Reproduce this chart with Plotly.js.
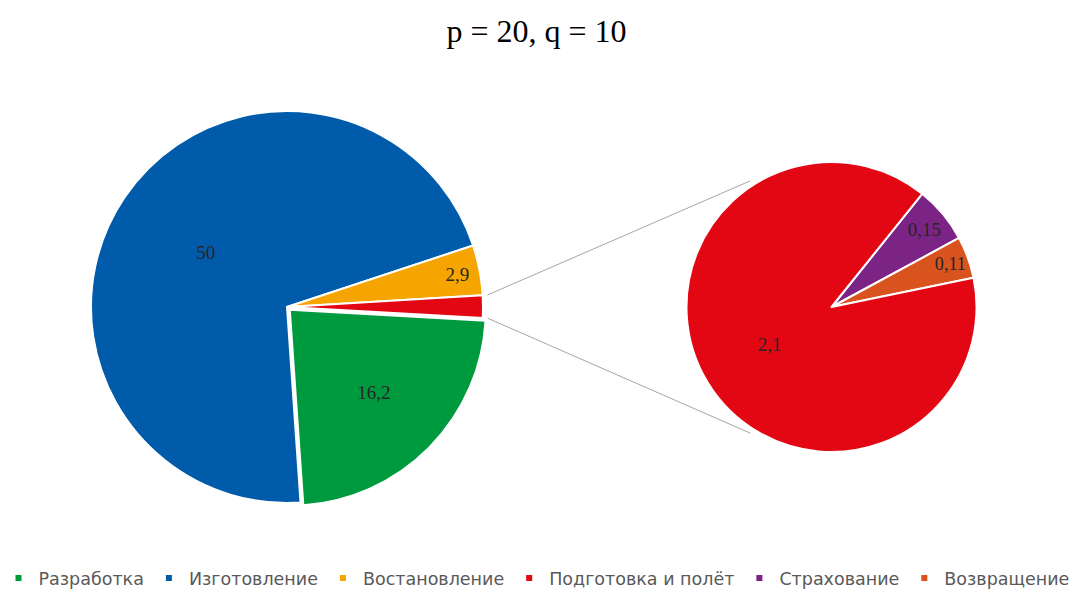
<!DOCTYPE html>
<html><head><meta charset="utf-8">
<script src="https://cdn.plot.ly/plotly-3.0.1.min.js"></script>
<style>html,body{margin:0;padding:0;background:#fff}</style>
</head><body><div id="chart" style="width:1073px;height:596px"></div>
<script>
// ---- data ----
const titleText = 'p = 20, q = 10';
const mainCategories = ['Разработка', 'Изготовление', 'Востановление', 'Подготовка и полёт'];
const mainValues = [16.2, 50, 2.9, 1.3];
const mainLabelText = ['16,2', '50', '2,9', ''];
const subCategories = ['Страхование', 'Возвращение', 'Подготовка и полёт'];
const subValues = [0.15, 0.11, 2.1];
const subLabelText = ['0,15', '0,11', '2,1'];
const legendCategories = ['Разработка', 'Изготовление', 'Востановление', 'Подготовка и полёт', 'Страхование', 'Возвращение'];
const categoryColors = ['#009A3E', '#005BAA', '#F6A500', '#E30613', '#7B2485', '#D9531E'];

// ---- layout geometry (pixels) ----
const W = 1073, H = 596;
const mainPie = {cx: 287, cy: 307, r: 196, pull: 0.02, rotation: 93.2};
const subPie = {cx: 831.5, cy: 307, r: 145, rotation: 38.7};
const connectorSubAngle = 122.7; // degrees, where connector meets secondary pie

const colorOf = c => categoryColors[legendCategories.indexOf(c)];
function domainOf(p, half) {
  return {x: [(p.cx - half) / W, (p.cx + half) / W], y: [1 - (p.cy + half) / H, 1 - (p.cy - half) / H]};
}

const labelFont = {family: 'Liberation Serif', size: 19, color: '#262626'};
const mainTrace = {
  type: 'pie', labels: mainCategories, values: mainValues, text: mainLabelText,
  textinfo: 'text', textposition: 'inside', insidetextorientation: 'horizontal',
  textfont: labelFont,
  sort: false, direction: 'clockwise', rotation: mainPie.rotation,
  pull: mainCategories.map((c, i) => i === 0 ? mainPie.pull : 0),
  marker: {colors: mainCategories.map(colorOf), line: {color: '#ffffff', width: 2}},
  domain: domainOf(mainPie, mainPie.r * (1 + mainPie.pull)),
  showlegend: false, hoverinfo: 'label+value'
};
const subTrace = {
  type: 'pie', labels: subCategories, values: subValues, text: subLabelText,
  textinfo: 'text', textposition: 'inside', insidetextorientation: 'horizontal',
  textfont: labelFont,
  sort: false, direction: 'clockwise', rotation: subPie.rotation,
  marker: {colors: subCategories.map(colorOf), line: {color: '#ffffff', width: 2}},
  domain: domainOf(subPie, subPie.r),
  showlegend: false, hoverinfo: 'label+value'
};
const legendTraces = legendCategories.map((c, i) => ({
  type: 'scatter', mode: 'markers', x: [null], y: [null], name: c,
  marker: {symbol: 'square', size: 6, color: categoryColors[i]}, hoverinfo: 'skip'
}));

// connector lines from the "other" slice to the secondary pie
const total = mainValues.reduce((a, b) => a + b, 0);
const before = mainValues.slice(0, mainValues.length - 1).reduce((a, b) => a + b, 0);
const clockStart = mainPie.rotation + 360 * before / total;
const clockEnd = mainPie.rotation + 360;
const toRad = d => d * Math.PI / 180;
function pt(p, rr, mathDeg) {
  return [(p.cx + rr * Math.cos(toRad(mathDeg))) / W, 1 - (p.cy - rr * Math.sin(toRad(mathDeg))) / H];
}
const upA = pt(mainPie, mainPie.r + 5, 90 - clockStart);
const loA = pt(mainPie, mainPie.r + 5, 90 - clockEnd);
const upB = pt(subPie, subPie.r + 5, connectorSubAngle);
const loB = pt(subPie, subPie.r + 5, -connectorSubAngle);
const lineStyle = {color: '#A6A6A6', width: 1};
const shapes = [
  {type: 'line', xref: 'paper', yref: 'paper', x0: upA[0], y0: upA[1], x1: upB[0], y1: upB[1], line: lineStyle},
  {type: 'line', xref: 'paper', yref: 'paper', x0: loA[0], y0: loA[1], x1: loB[0], y1: loB[1], line: lineStyle}
];

const layout = {
  width: W, height: H,
  margin: {l: 0, r: 0, t: 0, b: 0},
  paper_bgcolor: '#ffffff', plot_bgcolor: 'rgba(0,0,0,0)',
  title: {text: titleText, x: 0.5, xanchor: 'center', y: 1 - 31 / H, yanchor: 'middle',
          font: {family: 'Liberation Serif', size: 32, color: '#000000'}},
  xaxis: {visible: false}, yaxis: {visible: false},
  showlegend: true,
  legend: {orientation: 'h', x: 0.5, xanchor: 'center', y: 0, yanchor: 'bottom',
           font: {family: 'DejaVu Sans', size: 17.5, color: '#595959'}, traceorder: 'normal'},
  shapes: shapes
};

Plotly.newPlot('chart', [mainTrace, subTrace].concat(legendTraces), layout, {displayModeBar: false, staticPlot: true});
</script></body></html>
